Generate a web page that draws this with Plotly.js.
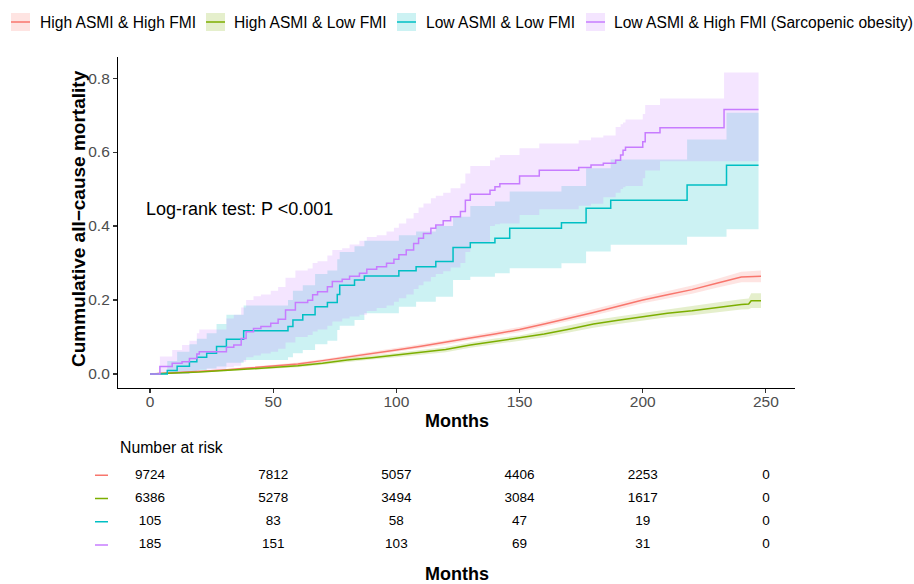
<!DOCTYPE html>
<html><head><meta charset="utf-8">
<script src="https://cdn.plot.ly/plotly-3.0.1.min.js"></script>
<style>html,body{margin:0;padding:0;background:#fff}#chart{width:914px;height:584px}</style>
</head><body><div id="chart"></div>
<script>
// ---------- data ----------
const groupNames = ["High ASMI & High FMI","High ASMI & Low FMI","Low ASMI & Low FMI","Low ASMI & High FMI (Sarcopenic obesity)"];

const redT  = [0,10,20,30,40,50,60,70,80,90,100,110,120,130,140,150,160,170,180,190,200,210,220,230,240,248];
const redV  = [0,0.003,0.007,0.011,0.016,0.021,0.027,0.036,0.045,0.054,0.065,0.075,0.085,0.097,0.108,0.12,0.135,0.15,0.166,0.183,0.2,0.214,0.228,0.245,0.262,0.264];
const redLo = [0,0.002,0.005,0.009,0.013,0.018,0.023,0.032,0.040,0.049,0.060,0.069,0.079,0.091,0.101,0.113,0.128,0.142,0.158,0.174,0.191,0.204,0.217,0.233,0.248,0.248];
const redHi = [0,0.004,0.009,0.013,0.019,0.024,0.031,0.040,0.050,0.059,0.070,0.081,0.091,0.103,0.115,0.127,0.142,0.158,0.174,0.192,0.209,0.224,0.239,0.257,0.276,0.280];

const greenT  = [0,10,20,30,40,50,60,70,80,90,100,110,120,130,140,150,160,170,180,190,200,210,220,230,240,243,244,248];
const greenV  = [0,0.002,0.005,0.009,0.013,0.017,0.022,0.029,0.038,0.044,0.051,0.058,0.066,0.078,0.088,0.096,0.108,0.121,0.135,0.145,0.155,0.164,0.171,0.180,0.188,0.189,0.198,0.198];
const greenLo = [0,0.001,0.004,0.007,0.010,0.014,0.018,0.025,0.033,0.039,0.045,0.052,0.059,0.071,0.080,0.088,0.099,0.112,0.125,0.135,0.145,0.153,0.159,0.167,0.174,0.175,0.178,0.178];
const greenHi = [0,0.003,0.006,0.011,0.016,0.020,0.026,0.033,0.043,0.049,0.057,0.064,0.073,0.085,0.096,0.104,0.117,0.130,0.145,0.155,0.165,0.175,0.183,0.193,0.202,0.204,0.218,0.218];

const tealT  = [0,7,11,16,19,23,27,31,38,56,58,62,67,72,76,77,83,87,101,108,116,123,130,140,146,167,177,187,218,234,247];
const tealV  = [0,0.009,0.021,0.033,0.045,0.056,0.074,0.094,0.117,0.128,0.146,0.16,0.182,0.193,0.215,0.24,0.254,0.265,0.279,0.29,0.304,0.342,0.355,0.367,0.394,0.409,0.448,0.47,0.511,0.564,0.564];
const tealHi = [0,0.035,0.06,0.08,0.095,0.11,0.135,0.16,0.185,0.2,0.225,0.24,0.27,0.28,0.31,0.33,0.345,0.36,0.375,0.385,0.4,0.425,0.454,0.466,0.493,0.508,0.556,0.58,0.634,0.706,0.706];
const tealLo = [0,0,0,0.005,0.01,0.015,0.02,0.03,0.038,0.045,0.056,0.065,0.08,0.09,0.119,0.13,0.146,0.164,0.182,0.195,0.209,0.254,0.263,0.272,0.286,0.299,0.331,0.349,0.371,0.391,0.391];

const purpT  = [0,4,9,13,16,19,20,31,34,37,39,42,45,49,52,55,59,64,66,68,72,74,78,81,85,88,92,96,99,101,104,107,109,111,114,116,119,122,126,128,130,138,140,142,150,158,174,179,184,189,191,192,193,200,201,207,233,247];
const purpV  = [0,0.02,0.029,0.033,0.042,0.054,0.06,0.072,0.078,0.096,0.114,0.123,0.128,0.137,0.148,0.173,0.193,0.199,0.214,0.222,0.236,0.25,0.256,0.264,0.272,0.283,0.29,0.299,0.31,0.322,0.335,0.353,0.367,0.38,0.394,0.403,0.414,0.425,0.439,0.47,0.486,0.497,0.506,0.514,0.535,0.551,0.558,0.565,0.57,0.578,0.592,0.605,0.613,0.628,0.652,0.666,0.715,0.715];
const purpHi = [0,0.047,0.065,0.078,0.09,0.11,0.12,0.15,0.16,0.18,0.2,0.21,0.215,0.225,0.235,0.26,0.28,0.285,0.3,0.305,0.32,0.335,0.34,0.35,0.36,0.37,0.375,0.385,0.395,0.407,0.42,0.435,0.45,0.461,0.475,0.482,0.49,0.502,0.515,0.542,0.562,0.578,0.585,0.592,0.61,0.623,0.632,0.639,0.645,0.668,0.675,0.68,0.688,0.703,0.727,0.745,0.815,0.815];
const purpLo = [0,0,0,0,0.003,0.008,0.012,0.018,0.022,0.033,0.045,0.05,0.055,0.06,0.068,0.085,0.1,0.105,0.115,0.12,0.13,0.142,0.15,0.155,0.16,0.17,0.178,0.185,0.195,0.205,0.215,0.23,0.24,0.25,0.262,0.27,0.278,0.288,0.3,0.33,0.356,0.4,0.405,0.407,0.43,0.445,0.455,0.46,0.478,0.49,0.5,0.505,0.508,0.529,0.55,0.575,0.575,0.575];

const riskTimes = [0,50,100,150,200,250];
const riskHAHF = [9724,7812,5057,4406,2253,0];
const riskHALF = [6386,5278,3494,3084,1617,0];
const riskLALF = [105,83,58,47,19,0];
const riskLAHF = [185,151,103,69,31,0];

const xTicks = [0,50,100,150,200,250];
const yTicks = [0,0.2,0.4,0.6,0.8];

// ---------- styling ----------
const cols = ["#F8766D","#7CAE00","#00BFC4","#C77CFF"];
const fills = ["rgba(248,118,109,0.2)","rgba(124,174,0,0.2)","rgba(0,191,196,0.2)","rgba(199,124,255,0.2)"];
const FONT = '"Liberation Sans", Arial, Helvetica, sans-serif';

const W=914, H=584, ML=118, MR=119, MT=57, MB=24;
const plotW = W-ML-MR, plotH = H-MT-MB;
const px = x => (x-ML)/plotW;
const py = y => (H-MB-y)/plotH;

const traces = [];
function band(t, lo, hi, i, shape){
  traces.push({x:t, y:lo, type:'scatter', mode:'lines', line:{width:0, shape:shape, color:fills[i]}, hoverinfo:'skip', showlegend:false, xaxis:'x', yaxis:'y'});
  traces.push({x:t, y:hi, type:'scatter', mode:'lines', fill:'tonexty', fillcolor:fills[i], line:{width:0, shape:shape, color:fills[i]}, hoverinfo:'skip', showlegend:false, xaxis:'x', yaxis:'y'});
}
band(redT, redLo, redHi, 0, 'linear');
band(greenT, greenLo, greenHi, 1, 'linear');
band(tealT, tealLo, tealHi, 2, 'hv');
band(purpT, purpLo, purpHi, 3, 'hv');

function line(t, v, i, shape){
  traces.push({x:t, y:v, type:'scatter', mode:'lines', name:groupNames[i], line:{color:cols[i], width:1.5, shape:shape}, showlegend:false, xaxis:'x', yaxis:'y'});
}
line(redT, redV, 0, 'linear');
line(greenT, greenV, 1, 'linear');
line(tealT, tealV, 2, 'hv');
line(purpT, purpV, 3, 'hv');

// risk table text
const riskRows = [riskHAHF, riskHALF, riskLALF, riskLAHF];
riskRows.forEach((row, i) => {
  traces.push({x:riskTimes, y:riskTimes.map(()=>i+1), text:row.map(String), type:'scatter', mode:'text',
    textfont:{family:FONT, size:13.5, color:'#000'}, textposition:'middle center', showlegend:false, hoverinfo:'skip',
    xaxis:'x2', yaxis:'y2', cliponaxis:false});
});

// ---------- layout ----------
const shapes = [];
const annotations = [];

// custom legend
const legBoxX = [11, 206, 397, 586];
const legTextX = [40, 234, 426, 614];
const legY = 22, legHalf = 9, legW = 19;
for (let i=0;i<4;i++){
  shapes.push({type:'rect', xref:'paper', yref:'paper', x0:px(legBoxX[i]), x1:px(legBoxX[i]+legW), y0:py(legY+legHalf), y1:py(legY-legHalf), fillcolor:fills[i], line:{width:0}});
  shapes.push({type:'line', xref:'paper', yref:'paper', x0:px(legBoxX[i]), x1:px(legBoxX[i]+legW), y0:py(legY), y1:py(legY), line:{color:cols[i], width:1.5}});
  annotations.push({xref:'paper', yref:'paper', x:px(legTextX[i]-2), y:py(legY), xanchor:'left', yanchor:'middle', text:groupNames[i], showarrow:false, font:{family:FONT, size:15.6, color:'#000'}});
}
// risk table dashes
for (let i=0;i<4;i++){
  shapes.push({type:'line', xref:'paper', yref:'y2', x0:px(95), x1:px(108), y0:i+1, y1:i+1, line:{color:cols[i], width:1.5}});
}

annotations.push({xref:'paper', yref:'paper', x:0.5, y:py(421), xanchor:'center', yanchor:'middle', text:'<b>Months</b>', showarrow:false, font:{family:FONT, size:18, color:'#000'}});
annotations.push({xref:'paper', yref:'paper', x:px(78), y:py(219), xanchor:'center', yanchor:'middle', textangle:-90, text:'<b>Cummulative all\u2212cause mortality</b>', showarrow:false, font:{family:FONT, size:19, color:'#000'}});
annotations.push({xref:'paper', yref:'paper', x:px(144), y:py(209), xanchor:'left', yanchor:'middle', text:'Log-rank test: P <0.001', showarrow:false, font:{family:FONT, size:18, color:'#000'}});
annotations.push({xref:'paper', yref:'paper', x:px(118), y:py(447), xanchor:'left', yanchor:'middle', text:'Number at risk', showarrow:false, font:{family:FONT, size:15.8, color:'#000'}});
annotations.push({xref:'paper', yref:'paper', x:0.5, y:py(574), xanchor:'center', yanchor:'middle', text:'<b>Months</b>', showarrow:false, font:{family:FONT, size:18, color:'#000'}});

const layout = {
  width:W, height:H,
  margin:{l:ML, r:MR, t:MT, b:MB, pad:0},
  paper_bgcolor:'#fff', plot_bgcolor:'#fff',
  showlegend:false,
  font:{family:FONT},
  xaxis:{domain:[0,1], range:[-13, 261.8], tickvals:xTicks, ticktext:xTicks.map(String), showgrid:false, zeroline:false,
    showline:true, linecolor:'#000', linewidth:1.1, ticks:'outside', ticklen:4, tickcolor:'#333', tickwidth:1.1,
    ticklabelstandoff:-5,
    tickfont:{family:FONT, size:15.5, color:'#4d4d4d'}, anchor:'y'},
  yaxis:{domain:[py(388),1], range:[-0.038, 0.857], tickvals:yTicks, ticktext:yTicks.map(v=>v.toFixed(1)), showgrid:false, zeroline:false,
    showline:true, linecolor:'#000', linewidth:1.1, ticks:'outside', ticklen:4, tickcolor:'#333', tickwidth:1.1,
    tickfont:{family:FONT, size:15.5, color:'#4d4d4d'}, anchor:'x'},
  xaxis2:{domain:[0,1], range:[-13, 261.8], visible:false, anchor:'y2'},
  yaxis2:{domain:[py(556.5), py(463.5)], range:[4.5, 0.5], visible:false, anchor:'x2'},
  shapes:shapes, annotations:annotations
};

Plotly.newPlot('chart', traces, layout, {displayModeBar:false, staticPlot:true});
</script>
</body></html>
